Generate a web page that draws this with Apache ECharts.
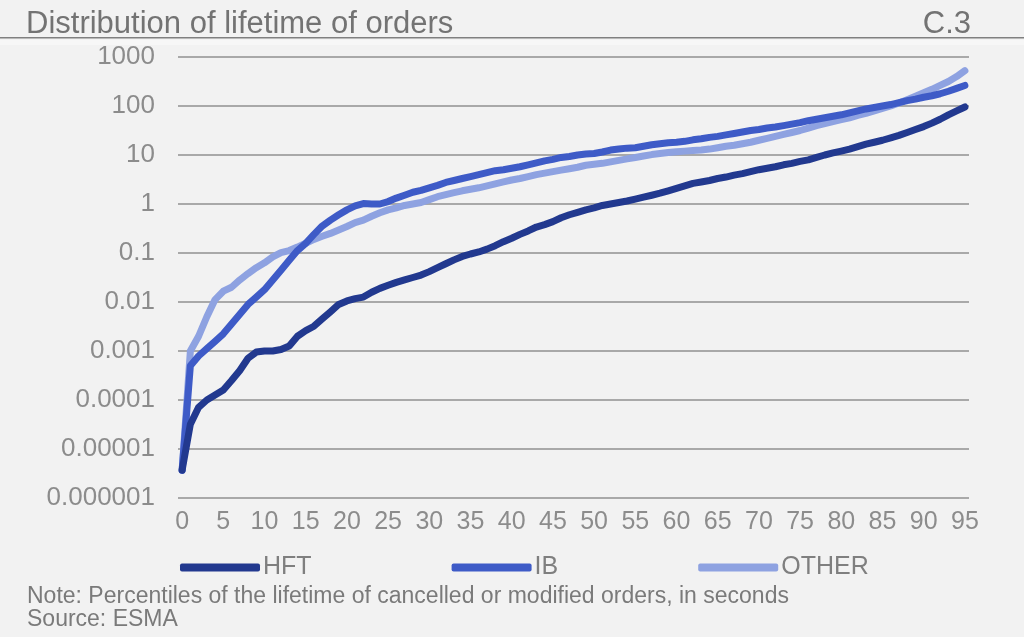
<!DOCTYPE html>
<html>
<head>
<meta charset="utf-8">
<script src="https://cdn.jsdelivr.net/npm/echarts@6/dist/echarts.min.js"></script>
<style>
html,body{margin:0;padding:0;background:#f2f2f2;}
#c{width:1024px;height:637px;}
</style>
</head>
<body>
<div id="c"></div>
<script>
const percentiles = Array.from({length: 96}, (_, i) => String(i));
const yTickLabels = ['0.000001','0.00001','0.0001','0.001','0.01','0.1','1','10','100','1000'];
const seriesNames = ['HFT', 'IB', 'OTHER'];

const hft = [3.7e-6, 3.2e-5, 7.1e-5, 1.0e-4, 1.26e-4, 1.6e-4, 2.5e-4, 4.0e-4, 7.1e-4, 9.5e-4,
  1.0e-3, 1.0e-3, 1.07e-3, 1.26e-3, 2.0e-3, 2.6e-3, 3.2e-3, 4.5e-3, 6.3e-3, 8.9e-3,
  0.0105, 0.0117, 0.0126, 0.0158, 0.019, 0.0219, 0.0251, 0.0282, 0.0316, 0.0355,
  0.0417, 0.0501, 0.0603, 0.0724, 0.0851, 0.0955, 0.105, 0.12, 0.141, 0.17,
  0.2, 0.24, 0.282, 0.339, 0.38, 0.437, 0.525, 0.603, 0.676, 0.759,
  0.832, 0.933, 1.0, 1.07, 1.15, 1.26, 1.38, 1.51, 1.66, 1.86,
  2.09, 2.34, 2.63, 2.82, 3.02, 3.31, 3.55, 3.89, 4.17, 4.57,
  5.01, 5.37, 5.75, 6.31, 6.76, 7.41, 7.94, 8.91, 10.0, 11.0,
  12.0, 13.2, 14.8, 16.6, 18.2, 20.0, 22.4, 25.1, 28.8, 33.1,
  38.0, 44.7, 53.7, 66.1, 79.4, 95.5];

const ib = [3.7e-6, 5.0e-4, 7.9e-4, 1.12e-3, 1.58e-3, 2.24e-3, 3.55e-3, 5.62e-3, 8.91e-3, 0.0126,
  0.0178, 0.0282, 0.0447, 0.0708, 0.112, 0.158, 0.24, 0.355, 0.468, 0.603,
  0.759, 0.912, 1.02, 1.0, 1.0, 1.12, 1.32, 1.51, 1.74, 1.9,
  2.14, 2.4, 2.75, 3.02, 3.31, 3.63, 3.98, 4.37, 4.79, 5.01,
  5.37, 5.75, 6.31, 6.92, 7.59, 8.13, 8.91, 9.33, 10.0, 10.5,
  10.7, 11.5, 12.6, 13.2, 13.8, 14.1, 15.1, 16.2, 17.0, 17.8,
  18.2, 19.0, 20.4, 21.4, 22.9, 24.0, 25.7, 27.5, 29.5, 31.6,
  33.1, 35.5, 37.2, 39.8, 42.7, 45.7, 50.1, 53.7, 57.5, 61.7,
  66.1, 72.4, 79.4, 87.1, 93.3, 100, 107, 117, 129, 138,
  151, 162, 178, 200, 229, 263];

const other = [3.7e-6, 1.0e-3, 2.0e-3, 5.0e-3, 0.0112, 0.0166, 0.02, 0.0282, 0.038, 0.0501,
  0.0631, 0.0832, 0.102, 0.112, 0.132, 0.158, 0.19, 0.219, 0.251, 0.295,
  0.347, 0.417, 0.468, 0.562, 0.661, 0.759, 0.832, 0.933, 1.0, 1.07,
  1.23, 1.41, 1.55, 1.7, 1.86, 2.0, 2.14, 2.34, 2.57, 2.82,
  3.09, 3.31, 3.63, 3.98, 4.27, 4.57, 4.9, 5.25, 5.62, 6.17,
  6.46, 6.76, 7.24, 7.76, 8.32, 8.91, 9.55, 10.2, 10.7, 11.2,
  11.7, 12.0, 12.3, 12.6, 13.2, 14.1, 15.1, 15.8, 17.0, 18.2,
  20.0, 21.9, 24.0, 26.3, 28.8, 31.6, 35.5, 39.8, 43.7, 47.9,
  52.5, 57.5, 64.6, 70.8, 79.4, 89.1, 100, 115, 135, 158,
  186, 219, 263, 316, 398, 525];

const colors = ['#22398f', '#3e5bc7', '#8ea2e1'];
const FONT = "'Liberation Sans', Arial, sans-serif";

const chart = echarts.init(document.getElementById('c'), null, {renderer: 'canvas'});

function mkSeries(name, data, color, z) {
  return {
    name: name, type: 'line', data: data, symbol: 'none', smooth: false, z: z,
    lineStyle: {color: color, width: 7, cap: 'round', join: 'round'},
    itemStyle: {color: color}
  };
}

chart.setOption({
  backgroundColor: '#f2f2f2',
  animation: false,
  color: colors,
  title: [
    {text: 'Distribution of lifetime of orders', left: 21, top: 4,
     textStyle: {fontFamily: FONT, fontSize: 31, fontWeight: 'normal', color: '#737373'}},
    {text: 'C.3', right: 48, top: 4,
     textStyle: {fontFamily: FONT, fontSize: 31, fontWeight: 'normal', color: '#737373'}}
  ],
  graphic: [
    {type: 'rect', shape: {x: 0, y: 37, width: 1024, height: 1.6}, style: {fill: '#808080'}},
    {type: 'rect', shape: {x: 0, y: 40, width: 1024, height: 5}, style: {fill: '#f7f7f7'}},
    {type: 'text', left: 27, top: 585,
     style: {text: 'Note: Percentiles of the lifetime of cancelled or modified orders, in seconds',
             font: '23px ' + FONT, fill: '#7a7a7a'}},
    {type: 'text', left: 27, top: 608,
     style: {text: 'Source: ESMA', font: '23px ' + FONT, fill: '#7a7a7a'}}
  ],
  legend: {
    data: seriesNames,
    left: 175, top: 550,
    itemWidth: 80, itemHeight: 8, itemGap: 140,
    icon: 'roundRect',
    textStyle: {fontFamily: FONT, fontSize: 25, color: '#7f7f7f', padding: [0, 0, 0, -2]}
  },
  grid: {left: 178, right: 55, top: 57, bottom: 139, containLabel: false},
  xAxis: {
    type: 'category', data: percentiles, boundaryGap: true,
    axisLine: {show: false}, axisTick: {show: false},
    axisLabel: {interval: 4, margin: 12, fontFamily: FONT, fontSize: 25, color: '#8c8c8c'}
  },
  yAxis: {
    type: 'log', logBase: 10, min: 0.000001, max: 1000,
    axisLine: {show: false}, axisTick: {show: false},
    splitLine: {show: true, lineStyle: {color: '#a9a9a9', width: 2}},
    axisLabel: {
      margin: 23, fontFamily: FONT, fontSize: 26, color: '#8c8c8c',
      formatter: function (v) {
        const k = Math.round(Math.log10(v)) + 6;
        return yTickLabels[k] !== undefined ? yTickLabels[k] : '';
      }
    }
  },
  series: [
    mkSeries(seriesNames[0], hft, colors[0], 3),
    mkSeries(seriesNames[1], ib, colors[1], 2),
    mkSeries(seriesNames[2], other, colors[2], 1)
  ]
});
</script>
</body>
</html>
